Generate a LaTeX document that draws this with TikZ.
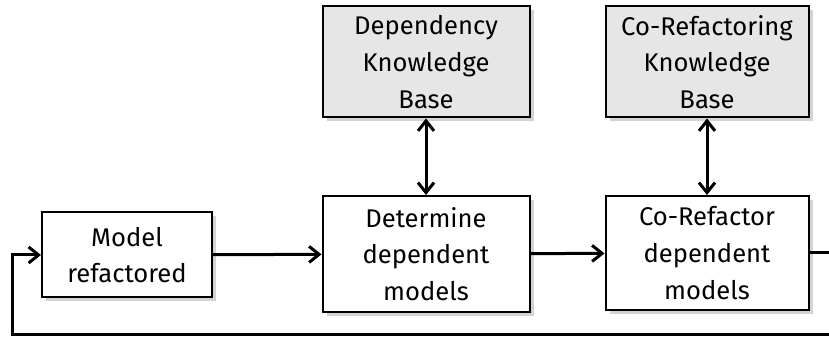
\documentclass[tikz,border=0pt]{standalone}
\usepackage{fontspec}
\setmainfont{Fira Sans}
\usepackage{xcolor}
\usetikzlibrary{arrows.meta, positioning, shadows}
\definecolor{kbgray}{RGB}{230, 230, 230}

\tikzset{
    stepbox/.style={draw=black, line width=1pt, fill=white, align=center,
          font=\fontsize{12.8}{18.4}\selectfont, inner sep=2pt,
          drop shadow={shadow xshift=2pt, shadow yshift=-2pt, opacity=0.35}},
    kbbox/.style={stepbox, fill=kbgray},
    flow/.style={line width=1.5pt, -{Straight Barb[length=5pt, width=8pt]}},
    both/.style={line width=1.5pt, {Straight Barb[length=5pt, width=8pt]}-{Straight Barb[length=5pt, width=8pt]}}
}

\begin{document}
\begin{tikzpicture}[x=0.5pt, y=-0.5pt]
    \useasboundingbox (0,0) rectangle (829,340);

    % process steps
    \node[stepbox, minimum width=85pt, minimum height=42.5pt] (model) at (127,255) {Model\\refactored};
    \node[stepbox, minimum width=103.5pt, minimum height=58pt] (determine) at (426,254) {Determine\\dependent\\models};
    \node[stepbox, minimum width=101.5pt, minimum height=57pt] (corefactor) at (707,253) {Co-Refactor\\dependent\\models};

    % knowledge bases
    \node[kbbox, minimum width=103.5pt, minimum height=55.5pt] (depkb) at (426,62) {Dependency\\Knowledge\\Base};
    \node[kbbox, minimum width=101.5pt, minimum height=55.5pt] (cokb) at (707,62) {Co-Refactoring\\Knowledge\\Base};

    % connectors
    \draw[flow] (model) -- (determine);
    \draw[flow] (determine) -- (corefactor);
    \draw[both] (depkb) -- (determine);
    \draw[both] (cokb) -- (corefactor);

    % feedback loop, leaves the picture on the right
    \coordinate (loopout) at (860,335);
    \coordinate (loopin) at (12,335);
    \draw[flow] (corefactor.east) -| (loopout) -- (loopin) |- (model.west);
\end{tikzpicture}
\end{document}
